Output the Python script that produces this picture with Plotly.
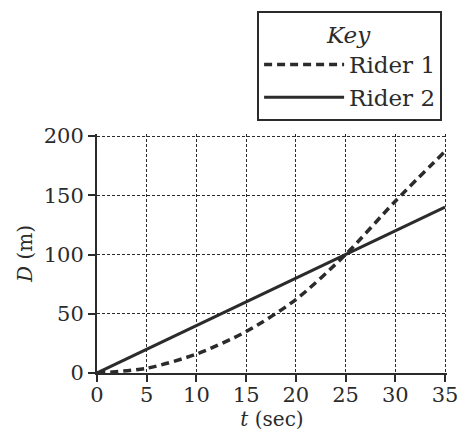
import plotly.graph_objects as go

t_values = [0, 5, 10, 15, 20, 25, 30, 35]
rider1_d = [0, 4, 16, 35, 62, 100, 145, 187]
rider2_d = [0, 20, 40, 60, 80, 100, 120, 140]
x_ticks = [0, 5, 10, 15, 20, 25, 30, 35]
y_ticks = [0, 50, 100, 150, 200]

ink = "#2b2b2b"
font = "DejaVu Serif"

fig = go.Figure()
fig.add_trace(go.Scatter(
    x=t_values, y=rider1_d, mode="lines", name="Rider 1",
    line=dict(color=ink, width=3.5, dash="8px,5px", shape="spline", smoothing=0.8),
))
fig.add_trace(go.Scatter(
    x=t_values, y=rider2_d, mode="lines", name="Rider 2",
    line=dict(color=ink, width=3),
))

axis_common = dict(
    showline=True, linecolor=ink, linewidth=2,
    showgrid=True, gridcolor=ink, gridwidth=1, griddash="3px,2px",
    zeroline=False, ticks="outside", ticklen=7, tickwidth=2, tickcolor=ink,
    tickfont=dict(family=font, size=21, color=ink),
)

fig.update_layout(
    width=461, height=441,
    margin=dict(l=97, r=14, t=134, b=68, autoexpand=False),
    paper_bgcolor="white", plot_bgcolor="white",
    font=dict(family=font, color=ink),
    xaxis=dict(range=[0, 35.2], tickvals=x_ticks, **axis_common, ticklabelstandoff=-5,
               title=dict(text="<i>t</i> (sec)", font=dict(family=font, size=20, color=ink), standoff=6)),
    yaxis=dict(range=[0, 201.7], tickvals=y_ticks, **axis_common,
               title=dict(text="<i>D</i> (m)", font=dict(family=font, size=20, color=ink), standoff=6)),
    legend=dict(
        x=0.959, y=0.975, xref="container", yref="container",
        xanchor="right", yanchor="top",
        bordercolor=ink, borderwidth=2, bgcolor="white",
        font=dict(family=font, size=23, color=ink),
        title=dict(text="<i>Key</i>", side="top center", font=dict(family=font, size=23, color=ink)),
        itemwidth=80, tracegroupgap=0,
    ),
)

fig.write_html("out.html")
